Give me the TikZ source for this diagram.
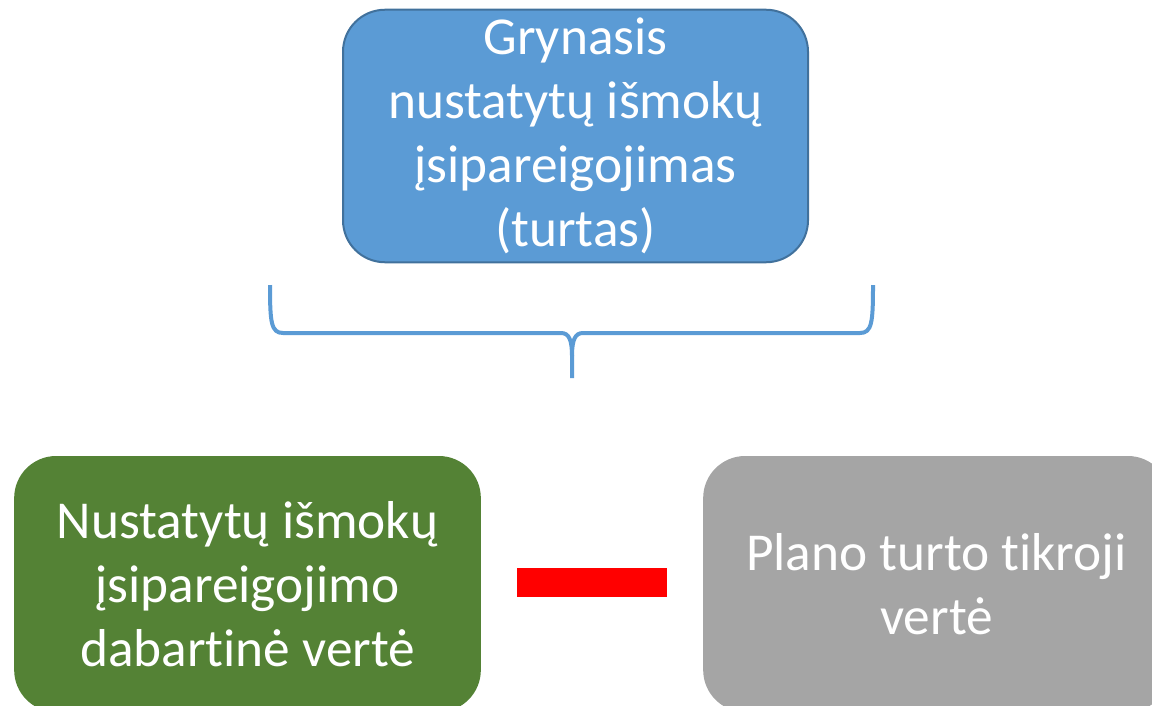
\documentclass[tikz,border=0pt]{standalone}
\usepackage{fontspec}
\setmainfont{Carlito}[Ligatures=NoCommon]
\definecolor{bluefill}{HTML}{5B9BD5}
\definecolor{blueline}{HTML}{41719C}
\definecolor{greenfill}{HTML}{548235}
\definecolor{grayfill}{HTML}{A5A5A5}
\definecolor{minusred}{HTML}{FF0000}
\begin{document}
\begin{tikzpicture}[x=0.75pt,y=-0.75pt,
  boxbase/.style={rectangle, rounded corners=31.5pt, inner sep=0pt,
    text=white, align=center, font=\fontsize{40}{48}\selectfont},
  topbox/.style={boxbase, fill=bluefill, draw=blueline, line width=1.5pt,
    minimum width=348.75pt, minimum height=189.4pt},
  lowbox/.style={boxbase, minimum width=350pt, minimum height=192pt},
  bracestyle/.style={draw=bluefill, line width=3pt},
  minusbar/.style={rectangle, fill=minusred, inner sep=0pt,
    minimum width=112.5pt, minimum height=21.75pt}]
\useasboundingbox (0,0) rectangle (1152,706);
\node[topbox] (net) at (575.5,136) {Grynasis\\nustatytų išmokų\\įsipareigojimas\\(turtas)};
\begin{scope}
\clip (0,0) rectangle (1152,706);
\node[lowbox, fill=greenfill] (obl) at (247.5,584) {Nustatytų išmokų\\įsipareigojimo\\dabartinė vertė};
\node[lowbox, fill=grayfill] (assets) at (936.5,584) {Plano turto tikroji\\vertė};
\end{scope}
\coordinate (bl) at (270,285);
\coordinate (br) at (873,285);
\coordinate (btip) at (572,378);
\draw[bracestyle] (bl) .. controls (270,322) and (271,333) .. (283,333) -- (561,333)
   .. controls (569,333) and (572,340) .. (572,356) -- (btip);
\draw[bracestyle] (br) .. controls (873,322) and (872,333) .. (860,333) -- (583,333)
   .. controls (575,333) and (572,340) .. (572,356);
\node[minusbar] (minus) at (592,582.5) {};
\end{tikzpicture}
\end{document}
